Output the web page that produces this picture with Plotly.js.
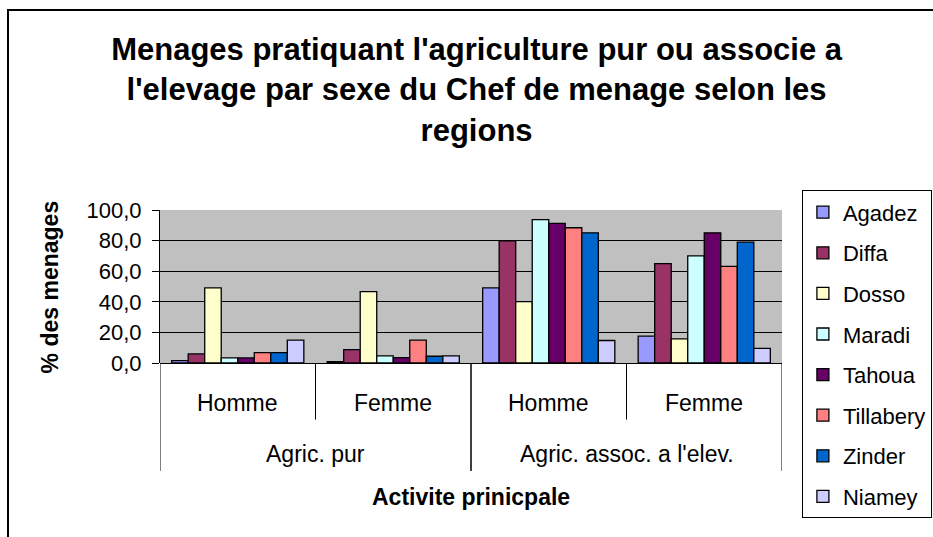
<!DOCTYPE html>
<html>
<head>
<meta charset="utf-8">
<script src="https://cdn.plot.ly/plotly-3.0.1.min.js"></script>
<style>
  html, body { margin: 0; padding: 0; background: #fff; overflow: hidden; }
  #chart { width: 933px; height: 537px; position: absolute; left: 0; top: 0; }
  #frame { position: absolute; left: 7px; top: 9px; width: 1000px; height: 600px; border: 2px solid #000; pointer-events: none; }
</style>
</head>
<body>
<div id="chart"></div>
<div id="frame"></div>
<script>
// ---- data ----
const activities = ["Agric. pur", "Agric. pur", "Agric. assoc. a l'elev.", "Agric. assoc. a l'elev."];
const sexes = ["Homme", "Femme", "Homme", "Femme"];
const regions = ["Agadez", "Diffa", "Dosso", "Maradi", "Tahoua", "Tillabery", "Zinder", "Niamey"];
const agadez    = [1.6, 0.9, 49.1, 17.6];
const diffa     = [5.9, 8.8, 79.9, 64.9];
const dosso     = [49.1, 46.7, 40.1, 15.8];
const maradi    = [3.3, 4.6, 93.7, 70.0];
const tahoua    = [3.3, 3.5, 91.3, 85.1];
const tillabery = [6.8, 14.9, 88.4, 63.2];
const zinder    = [6.8, 4.4, 85.1, 79.0];
const niamey    = [14.9, 4.6, 14.7, 9.5];
const seriesValues = [agadez, diffa, dosso, maradi, tahoua, tillabery, zinder, niamey];
const colors = ["#9999FF", "#993366", "#FFFFCC", "#CCFFFF", "#660066", "#FF8080", "#0066CC", "#CCCCFF"];
const yTicks = [0, 20, 40, 60, 80, 100];

const FONT = "Liberation Sans, Arial, sans-serif";
const xpos = sexes.map((_, i) => i);

const traces = regions.map((name, k) => ({
  type: "bar",
  name: name,
  x: xpos,
  y: seriesValues[k],
  legendgroup: name,
  marker: { color: colors[k], line: { color: "#000", width: 1.3 } },
  hoverinfo: "name+y"
}));

// category labels and dividers
const annotations = [];
const shapes = [];
sexes.forEach((s, i) => {
  annotations.push({ xref: "x", yref: "paper", x: i, y: -0.26, text: s, showarrow: false,
    font: { family: FONT, size: 23, color: "#000" }, xanchor: "center", yanchor: "middle" });
});
const outerGroups = [];
activities.forEach((a, i) => {
  const g = outerGroups.find(o => o.name === a);
  if (g) g.end = i; else outerGroups.push({ name: a, start: i, end: i });
});
outerGroups.forEach(g => {
  annotations.push({ xref: "x", yref: "paper", x: (g.start + g.end) / 2, y: -0.595, text: g.name, showarrow: false,
    font: { family: FONT, size: 23, color: "#000" }, xanchor: "center", yanchor: "middle" });
  shapes.push({ type: "line", xref: "x", yref: "paper", x0: g.start - 0.5, x1: g.start - 0.5, y0: 0, y1: -0.705,
    line: { color: "#000", width: 1 } });
  shapes.push({ type: "line", xref: "x", yref: "paper", x0: g.end + 0.5, x1: g.end + 0.5, y0: 0, y1: -0.705,
    line: { color: "#000", width: 1 } });
  for (let i = g.start; i < g.end; i++) {
    shapes.push({ type: "line", xref: "x", yref: "paper", x0: i + 0.5, x1: i + 0.5, y0: 0, y1: -0.37,
      line: { color: "#000", width: 1 } });
  }
});
annotations.push({ xref: "paper", yref: "paper", x: 0.5, y: -0.876, text: "<b>Activite prinicpale</b>", showarrow: false,
  font: { family: FONT, size: 23, color: "#000" }, xanchor: "center", yanchor: "middle" });
annotations.push({ xref: "paper", yref: "paper", x: -0.177, y: 0.5, text: "<b>% des menages</b>", showarrow: false,
  textangle: -90, font: { family: FONT, size: 23, color: "#000" }, xanchor: "center", yanchor: "middle" });

const layout = {
  width: 933, height: 537,
  margin: { l: 160, r: 151, t: 210, b: 174, pad: 0, autoexpand: false },
  paper_bgcolor: "#fff",
  plot_bgcolor: "#C0C0C0",
  separators: ", ",
  font: { family: FONT, color: "#000" },
  title: {
    text: "<b>Menages pratiquant l'agriculture pur ou associe a<br>l'elevage par sexe du Chef de menage selon les<br>regions</b>",
    font: { family: FONT, size: 31, color: "#000" },
    x: 0.509, xanchor: "center", xref: "paper",
    y: 0.888, yanchor: "middle", yref: "container"
  },
  barmode: "group",
  bargap: 0.15,
  bargroupgap: 0,
  xaxis: {
    range: [-0.5, sexes.length - 0.5],
    showticklabels: false, showgrid: false, zeroline: false,
    showline: false, ticks: "", fixedrange: true
  },
  yaxis: {
    range: [0, 100],
    tickvals: yTicks,
    tickformat: ".1f",
    ticks: "outside", ticklen: 7, tickcolor: "#000", tickwidth: 1,
    ticklabelstandoff: 6,
    showline: true, linecolor: "#000", linewidth: 1,
    showgrid: true, gridcolor: "#000", gridwidth: 1,
    zeroline: true, zerolinecolor: "#000", zerolinewidth: 1,
    tickfont: { family: FONT, size: 22, color: "#000" },
    fixedrange: true
  },
  showlegend: true,
  legend: {
    x: 1.032, xanchor: "left", y: 1.128, yanchor: "top",
    bgcolor: "#fff", bordercolor: "#000", borderwidth: 1,
    font: { family: FONT, size: 22, color: "#000" },
    tracegroupgap: 9,
    traceorder: "grouped",
    maxheight: 400
  },
  annotations: annotations,
  shapes: shapes
};

Plotly.newPlot("chart", traces, layout, { displayModeBar: false, staticPlot: true });
</script>
</body>
</html>
